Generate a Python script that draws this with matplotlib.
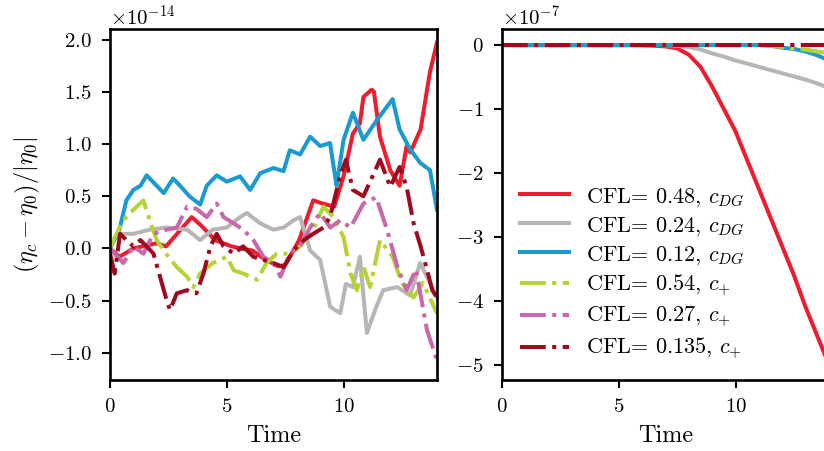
import matplotlib
matplotlib.use("Agg")
import matplotlib.pyplot as plt
import numpy as np

plt.rcParams["font.family"] = "serif"
plt.rcParams["font.serif"] = ["cmr10"]
plt.rcParams["mathtext.fontset"] = "cm"
plt.rcParams["axes.formatter.use_mathtext"] = True

# ------------------- LEFT PANEL: (eta_c - eta_0)/|eta_0|, units of 1e-14 -------------------
t_red = [0, 0.4, 1.0, 2.0, 2.4, 3.5, 3.9, 4.5, 5.2, 5.6, 6.1, 6.6, 7.2, 7.5, 8.1, 8.7, 9.1, 9.6, 10.0,
         10.4, 10.7, 10.85, 11.2, 11.3, 11.56, 12.0, 12.4, 12.7, 12.86, 13.3, 13.7, 14.0]
v_red = [0, -0.08, 0.0, 0.05, 0.02, 0.3, 0.22, 0.08, 0.02, 0.0, -0.02, -0.1, -0.17, -0.16, 0.08, 0.46, 0.43, 0.4, 0.69,
         1.1, 1.2, 1.45, 1.52, 1.5, 1.07, 0.75, 0.6, 0.98, 0.92, 1.14, 1.69, 1.97]

t_gray = [0, 0.3, 1.0, 1.7, 2.4, 3.3, 3.86, 4.4, 5.0, 5.57, 5.86, 6.43, 7.0, 7.43, 7.86, 8.14, 8.57, 9.0,
          9.43, 9.86, 10.1, 10.4, 10.7, 11.0, 11.4, 11.7, 12.3, 12.85, 13.28, 13.7, 14.0]
v_gray = [0, 0.14, 0.14, 0.18, 0.2, 0.18, 0.08, 0.18, 0.2, 0.3, 0.34, 0.24, 0.18, 0.2, 0.27, 0.3, -0.02, -0.11,
          -0.56, -0.62, -0.34, -0.37, -0.08, -0.81, -0.56, -0.4, -0.37, -0.45, -0.14, -0.33, -0.47]

t_blue = [0, 0.4, 0.7, 1.0, 1.3, 1.57, 2.0, 2.3, 2.7, 3.0, 3.4, 3.86, 4.14, 4.57, 5.0, 5.57, 6.0, 6.43, 7.0,
          7.43, 7.7, 8.14, 8.57, 9.0, 9.42, 9.7, 10.0, 10.4, 10.85, 11.43, 12.1, 12.4, 12.85, 13.28, 13.7, 14.0]
v_blue = [0, 0.18, 0.46, 0.56, 0.6, 0.7, 0.6, 0.53, 0.67, 0.6, 0.5, 0.42, 0.6, 0.7, 0.64, 0.69, 0.56, 0.72, 0.77,
          0.74, 0.94, 0.9, 1.07, 0.98, 1.01, 0.6, 1.04, 1.3, 1.04, 1.23, 1.43, 1.14, 0.95, 0.82, 0.75, 0.37]

t_green = [0, 0.15, 0.57, 1.0, 1.43, 1.7, 2.0, 2.4, 2.86, 3.3, 3.57, 3.86, 4.4, 5.0, 5.3, 5.7, 6.3, 6.7, 7.14,
           7.7, 8.14, 8.7, 9.14, 9.57, 10.0, 10.3, 10.57, 10.86, 11.14, 11.56, 12.1, 12.5, 13.0, 13.4, 14.0]
v_green = [0, 0.08, 0.27, 0.37, 0.46, 0.27, 0.08, -0.05, -0.18, -0.27, -0.37, -0.24, -0.14, -0.08, -0.21, -0.24, -0.3, -0.14, -0.05,
           -0.05, 0.02, 0.18, 0.4, 0.3, 0.11, -0.24, -0.4, -0.18, -0.37, 0.08, -0.08, -0.33, -0.47, -0.33, -0.62]

t_pink = [0, 0.2, 0.57, 1.0, 1.43, 1.86, 2.43, 2.86, 3.3, 3.7, 4.14, 4.57, 4.86, 5.3, 5.7, 6.14, 6.57, 7.0, 7.3,
          7.7, 8.14, 8.57, 9.0, 9.43, 9.86, 10.3, 10.85, 11.4, 11.86, 12.3, 12.7, 13.1, 13.57, 14.0]
v_pink = [0, -0.05, -0.14, 0.02, -0.05, 0.14, 0.18, 0.2, 0.4, 0.38, 0.3, 0.43, 0.3, 0.24, 0.18, 0.08, -0.08, -0.14, -0.27,
          -0.05, 0.02, 0.2, 0.34, 0.2, 0.27, 0.2, 0.43, 0.49, 0.18, -0.17, -0.4, -0.2, -0.78, -1.07]

t_dred = [0, 0.2, 0.43, 0.7, 1.0, 1.3, 1.57, 1.86, 2.14, 2.43, 2.57, 2.86, 3.3, 3.7, 4.0, 4.3, 4.57, 4.86, 5.3,
          5.7, 6.14, 6.57, 7.0, 7.43, 7.86, 8.3, 8.7, 9.14, 9.42, 9.85, 10.1, 10.4, 10.85, 11.3, 11.56, 12.0,
          12.4, 12.7, 13.0, 13.3, 13.57, 13.8, 14.0]
v_dred = [-0.05, -0.24, 0.14, 0.08, 0.02, 0.08, 0.02, -0.05, -0.27, -0.5, -0.59, -0.43, -0.4, -0.43, -0.24, 0.02, 0.14, 0.02, -0.05,
          0.02, -0.08, -0.11, -0.14, -0.18, -0.02, 0.08, 0.14, 0.2, 0.3, 0.69, 0.85, 0.56, 0.5, 0.72, 0.85, 0.59,
          0.78, 0.59, 0.24, 0.02, -0.2, -0.4, -0.47]

# ------------------- RIGHT PANEL: units of 1e-7 -------------------
t_right = [0, 6.0, 7.0, 7.5, 8.0, 8.5, 9.0, 9.5, 10.0, 10.5, 11.0, 11.5, 12.0, 12.5, 13.0, 13.5, 14.0]
r_red = [0, 0, -0.02, -0.05, -0.15, -0.34, -0.65, -1.0, -1.35, -1.8, -2.25, -2.7, -3.15, -3.6, -4.1, -4.55, -5.0]
r_gray = [0, 0, 0, -0.01, -0.03, -0.07, -0.13, -0.18, -0.24, -0.29, -0.34, -0.39, -0.44, -0.49, -0.54, -0.6, -0.67]
r_blue = [0, 0, 0, 0, 0, 0, 0, 0, 0, 0, 0, -0.01, -0.04, -0.06, -0.1, -0.16, -0.24]
r_green = [0, 0, 0, 0, 0, 0, 0, 0, 0, 0, 0, -0.01, -0.03, -0.05, -0.07, -0.1, -0.13]
r_pink = [0] * len(t_right)
r_dred = [0] * len(t_right)

labels = [r"CFL= 0.48, $c_{DG}$", r"CFL= 0.24, $c_{DG}$", r"CFL= 0.12, $c_{DG}$",
          r"CFL= 0.54, $c_{+}$", r"CFL= 0.27, $c_{+}$", r"CFL= 0.135, $c_{+}$"]
colors = ["#ED1C2E", "#BAB5B5", "#1A9ACF", "#B4D334", "#C868AA", "#9E0A1E"]
styles = ["-", "-", "-", "-.", "-.", "-."]

left_series = [(t_red, v_red), (t_gray, v_gray), (t_blue, v_blue),
               (t_green, v_green), (t_pink, v_pink), (t_dred, v_dred)]
right_series = [r_red, r_gray, r_blue, r_green, r_pink, r_dred]

fig = plt.figure(figsize=(8.24, 4.51), dpi=100)
ax1 = fig.add_axes([0.1335, 0.1574, 0.3968, 0.778])
ax2 = fig.add_axes([0.6092, 0.1574, 0.3968, 0.778])

lw = 2.9
for (t, v), c, ls, lab in zip(left_series, colors, styles, labels):
    ax1.plot(t, np.array(v) * 1e-14, color=c, ls=ls, lw=lw, label=lab)
for r, c, ls, lab in zip(right_series, colors, styles, labels):
    ax2.plot(t_right, np.array(r) * 1e-7, color=c, ls=ls, lw=lw, label=lab)

ax1.set_xlim(0, 14)
ax1.set_ylim(-1.26e-14, 2.1e-14)
ax1.set_yticks(np.arange(-1.0, 2.01, 0.5) * 1e-14)
ax2.set_xlim(0, 14)
ax2.set_ylim(-5.24e-7, 0.25e-7)
ax2.set_yticks(np.arange(-5, 0.5, 1) * 1e-7)

for ax in (ax1, ax2):
    ax.set_xticks([0, 5, 10])
    ax.set_xlabel("Time", fontsize=17.5, labelpad=6)
    ax.tick_params(labelsize=15, width=1.5, length=6, pad=7)
    for s in ax.spines.values():
        s.set_linewidth(1.9)
    ax.yaxis.get_offset_text().set_fontsize(15)

ax1.set_ylabel(r"$(\eta_c - \eta_0)/|\eta_0|$", fontsize=17.5)
ax2.legend(loc="lower left", frameon=False, fontsize=16, handlelength=2.2,
           handletextpad=0.8, labelspacing=0.28, borderaxespad=0.4)

fig.savefig("out.png", dpi=100)
